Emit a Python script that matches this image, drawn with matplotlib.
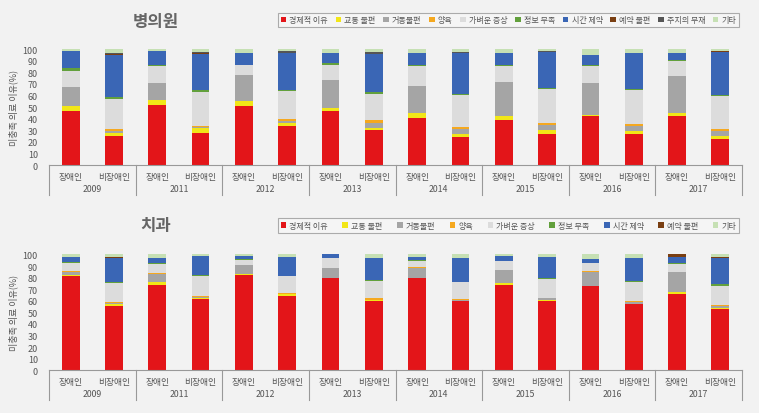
import matplotlib
matplotlib.use("Agg")
import matplotlib.pyplot as plt
from matplotlib.patches import Patch

plt.rcParams['font.family'] = ['Noto Sans CJK KR', 'DejaVu Sans']

years = ["2009", "2011", "2012", "2013", "2014", "2015", "2016", "2017"]
groups = ["장애인", "비장애인"]

# 병의원 (16 bars: 장애인/비장애인 per year)
hosp_econ = [47, 25, 52, 28, 51, 34, 46.5, 30, 40.5, 24.5, 39, 26.5, 42, 26.5, 42.5, 22.5]
hosp_traffic = [4, 2.5, 4.5, 3.5, 4, 2, 2.5, 2, 4, 2.5, 3.5, 3.5, 1, 2.5, 2, 2.5]
hosp_mobility = [16, 2, 14.5, 1, 22.5, 2, 24.5, 4, 23.5, 4, 29.5, 4.5, 28, 4.5, 32, 4]
hosp_child = [0, 1.5, 0, 1.5, 0, 2, 0, 2.5, 0, 1.5, 0, 2, 0, 1.5, 0, 2]
hosp_mild = [14, 26, 14, 29, 8.5, 24, 13, 22.5, 17, 28, 13.5, 29, 14.5, 29.5, 13, 28.5]
hosp_info = [2.5, 2, 1, 2, 0.5, 1, 1.5, 2, 1, 1, 1, 1, 1, 1, 1, 1]
hosp_time = [14.5, 36, 12, 31, 10.5, 32, 9, 33, 11, 35, 10.5, 31, 8.5, 31.5, 6.5, 37]
hosp_booking = [0, 0.5, 0, 0.5, 0, 0, 0, 0, 0, 0, 0, 0, 0, 0, 0, 0.5]
hosp_doctor = [0.5, 1, 0, 1, 0, 1.5, 0, 1.5, 0, 1, 0, 1, 0, 0, 0, 0]
hosp_etc = [1.5, 3.5, 2, 2.5, 3, 1.5, 3, 2.5, 3, 2.5, 3, 1.5, 5, 3, 3, 2]

# 치과
dent_econ = [81, 55.5, 73.5, 61.5, 82.5, 64.5, 79.5, 59.5, 79.5, 59.5, 74, 59.5, 72.5, 57, 66, 53]
dent_traffic = [1, 1.5, 2.5, 1, 0.5, 1, 0.5, 1, 0.5, 0.5, 1.5, 1, 0.5, 0.5, 2, 1]
dent_mobility = [3, 1, 7.5, 0.5, 7.5, 0.5, 8, 0.5, 8.5, 0.5, 11.5, 1.5, 12, 1.5, 16.5, 1.5]
dent_child = [0.5, 1, 0.5, 1.5, 0, 1, 0.5, 1.5, 0.5, 1, 0, 0.5, 0.5, 1, 0, 0.5]
dent_mild = [7.5, 16, 8, 16.5, 5, 14, 8, 14.5, 5.5, 14.5, 7, 16.5, 7, 16, 7.5, 17]
dent_info = [0.5, 1, 1, 1, 0.5, 0.5, 0.5, 1, 0.5, 0.5, 0.5, 1, 0.5, 1, 0.5, 1.5]
dent_time = [4.5, 21, 4, 16.5, 3, 16.5, 3, 19, 2.5, 20, 4, 17.5, 3, 20, 5.5, 22.5]
dent_booking = [0, 0.5, 0, 0, 0, 0, 0, 0, 0, 0, 0, 0, 0, 0, 2, 1]
dent_etc = [2, 2.5, 3, 1.5, 1, 2, 0, 3, 2.5, 3.5, 1.5, 2.5, 4, 3, 0, 2]

hosp_labels = ["경제적 이유", "교통 불편", "거동불편", "양육", "가벼운 증상", "정보 부족",
               "시간 제약", "예약 불편", "주치의 부재", "기타"]
hosp_colors = ["#e31519", "#f2e617", "#a5a5a5", "#f5a81f", "#dcdcdc", "#62a03c",
               "#3a66b5", "#7a3f12", "#555555", "#c6e0b4"]
dent_labels = ["경제적 이유", "교통 불편", "거동불편", "양육", "가벼운 증상", "정보 부족",
               "시간 제약", "예약 불편", "기타"]
dent_colors = ["#e31519", "#f2e617", "#a5a5a5", "#f5a81f", "#dcdcdc", "#62a03c",
               "#3a66b5", "#7a3f12", "#c6e0b4"]

hosp_series = [hosp_econ, hosp_traffic, hosp_mobility, hosp_child, hosp_mild, hosp_info,
               hosp_time, hosp_booking, hosp_doctor, hosp_etc]
dent_series = [dent_econ, dent_traffic, dent_mobility, dent_child, dent_mild, dent_info,
               dent_time, dent_booking, dent_etc]

BG = "#f2f2f2"
TXT = "#555555"

fig = plt.figure(figsize=(7.59, 4.14), dpi=100, facecolor=BG)


def draw_panel(rect, series, colors, labels, title, title_y, legend_y):
    ax = fig.add_axes(rect)
    ax.set_facecolor(BG)
    x = list(range(len(series[0])))
    bottom = [0.0] * len(x)
    for vals, col in zip(series, colors):
        ax.bar(x, vals, bottom=bottom, width=0.41, color=col, linewidth=0)
        bottom = [b + v for b, v in zip(bottom, vals)]

    ax.set_xlim(-0.5, len(x) - 0.5)
    ax.set_ylim(0, 100)
    ax.set_yticks(range(0, 101, 10))
    ax.tick_params(axis='y', length=0, labelsize=6.5, labelcolor=TXT, pad=8)
    ax.set_xticks([])
    for s in ["top", "right", "left"]:
        ax.spines[s].set_visible(False)
    ax.spines["bottom"].set_color("#999999")
    ax.spines["bottom"].set_linewidth(0.8)

    # category labels and year separators under the axis
    tr = ax.get_xaxis_transform()
    for i, xi in enumerate(x):
        ax.text(xi, -0.095, groups[i % 2], transform=tr, ha='center', va='center',
                fontsize=6.3, color=TXT)
    for j, yr in enumerate(years):
        ax.text(2 * j + 0.5, -0.2, yr, transform=tr, ha='center', va='center',
                fontsize=6.3, color=TXT)
    for k in range(len(years) + 1):
        ax.plot([2 * k - 0.5, 2 * k - 0.5], [0, -0.26], transform=tr, color="#999999",
                lw=0.8, clip_on=False)

    fig.text(0.205, title_y, title, ha='center', va='center', fontsize=12,
             fontweight='bold', color="#666666")
    fig.text(0.018, rect[1] + rect[3] / 2, "미충족 의료 이유(%)", rotation=90,
             ha='center', va='center', fontsize=6.5, color=TXT)

    handles = [Patch(facecolor=c, edgecolor='none') for c in colors]
    leg = fig.legend(handles, labels, loc='lower left',
                     bbox_to_anchor=(0.366, legend_y, 0.608, 0.039),
                     mode='expand', ncol=len(labels), fontsize=5.8, frameon=True,
                     handlelength=0.7, handleheight=0.7, handletextpad=0.4,
                     columnspacing=0.5, borderpad=0.35, borderaxespad=0)
    leg.get_frame().set_facecolor("#f7f7f7")
    leg.get_frame().set_edgecolor("#999999")
    leg.get_frame().set_linewidth(0.8)
    leg.get_frame().set_boxstyle('square', pad=0)
    for t in leg.get_texts():
        t.set_color(TXT)
    return ax


draw_panel([0.0646, 0.599, 0.913, 0.280], hosp_series, hosp_colors, hosp_labels,
           "병의원", 0.947, 0.932)
draw_panel([0.0646, 0.103, 0.913, 0.280], dent_series, dent_colors, dent_labels,
           "치과", 0.454, 0.435)

fig.savefig("out.png", dpi=100, facecolor=BG)
